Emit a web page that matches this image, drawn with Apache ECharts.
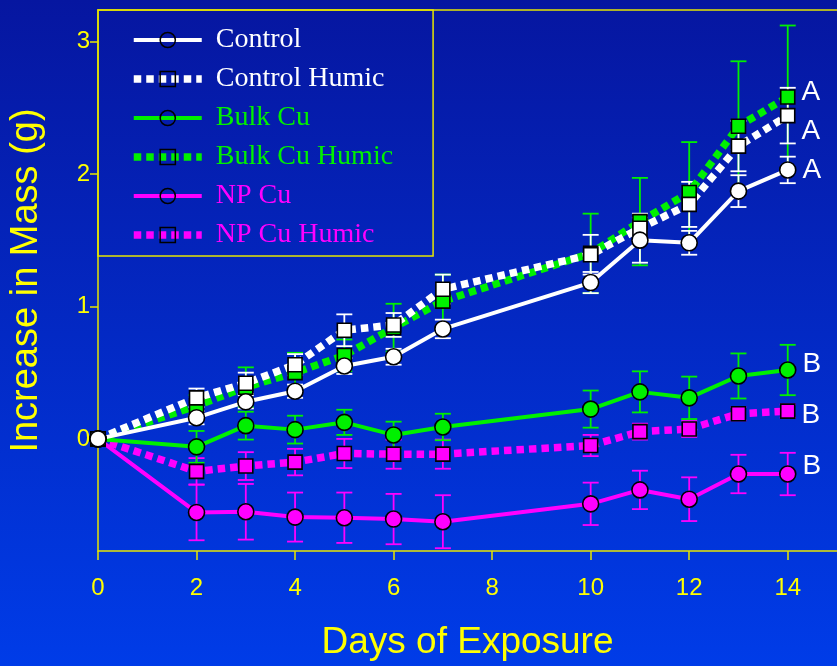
<!DOCTYPE html>
<html>
<head>
<meta charset="utf-8">
<script src="https://cdn.jsdelivr.net/npm/echarts@6/dist/echarts.min.js"></script>
<style>
  html, body { margin: 0; padding: 0; background: #0428c8; }
  #chart { width: 837px; height: 666px; }
</style>
</head>
<body>
<div id="chart"></div>
<script>
// Growth over the exposure period, mean increase in mass with error bars
const days = [0, 2, 3, 4, 5, 6, 7, 10, 11, 12, 13, 14];
const xTicks = [0, 2, 4, 6, 8, 10, 12, 14];
const yTicks = [0, 1, 2, 3];

const seriesNames = ['Control', 'Control Humic', 'Bulk Cu', 'Bulk Cu Humic', 'NP Cu', 'NP Cu Humic'];

const control      = [0, 0.16, 0.28, 0.36, 0.55, 0.62, 0.83, 1.18, 1.50, 1.48, 1.87, 2.03];
const controlErr   = [0, 0.05, 0.05, 0.05, 0.06, 0.06, 0.07, 0.08, 0.17, 0.09, 0.12, 0.10];
const controlHumic = [0, 0.31, 0.42, 0.56, 0.82, 0.86, 1.13, 1.39, 1.59, 1.77, 2.21, 2.44];
const controlHumicErr = [0, 0.07, 0.08, 0.08, 0.12, 0.09, 0.11, 0.15, 0.11, 0.17, 0.19, 0.21];
const bulkCu       = [0, -0.06, 0.10, 0.07, 0.125, 0.03, 0.09, 0.225, 0.355, 0.31, 0.475, 0.52];
const bulkCuErr    = [0, 0.12, 0.105, 0.105, 0.095, 0.10, 0.10, 0.14, 0.155, 0.16, 0.17, 0.19];
const bulkCuHumic  = [0, 0.25, 0.39, 0.50, 0.63, 0.84, 1.04, 1.40, 1.64, 1.86, 2.36, 2.58];
const bulkCuHumicErr = [0, 0.08, 0.15, 0.15, 0.12, 0.18, 0.20, 0.30, 0.33, 0.38, 0.49, 0.54];
const npCu         = [0, -0.555, -0.55, -0.59, -0.595, -0.605, -0.625, -0.49, -0.385, -0.455, -0.265, -0.265];
const npCuErr      = [0, 0.21, 0.21, 0.185, 0.19, 0.19, 0.20, 0.16, 0.145, 0.165, 0.145, 0.16];
const npCuHumic    = [0, -0.245, -0.205, -0.175, -0.11, -0.115, -0.115, -0.05, 0.055, 0.075, 0.19, 0.21];
const npCuHumicErr = [0, 0.10, 0.105, 0.10, 0.11, 0.11, 0.11, 0.08, 0.06, 0.06, 0.05, 0.05];

// Statistical grouping letters shown beside the day-14 points
const groupLetters = ['A', 'A', 'B', 'A', 'B', 'B'];

const YELLOW = '#ffff00';
const AXIS_YELLOW = '#e6e600';
const WHITE = '#ffffff';
const GREEN = '#00f000';
const MAGENTA = '#ff00ff';

const styles = [
  { color: WHITE,   symbol: 'circle', dashed: false, letterDy: 0 },
  { color: WHITE,   symbol: 'rect',   dashed: true,  letterDy: 16 },
  { color: GREEN,   symbol: 'circle', dashed: false, letterDy: -6 },
  { color: GREEN,   symbol: 'rect',   dashed: true,  letterDy: -5 },
  { color: MAGENTA, symbol: 'circle', dashed: false, letterDy: -8 },
  { color: MAGENTA, symbol: 'rect',   dashed: true,  letterDy: 4 }
];
const values = [control, controlHumic, bulkCu, bulkCuHumic, npCu, npCuHumic];
const errors = [controlErr, controlHumicErr, bulkCuErr, bulkCuHumicErr, npCuErr, npCuHumicErr];

const DASH = [7.5, 5];

function lineSeries(i) {
  const st = styles[i];
  const vals = values[i];
  const data = days.map((d, k) => {
    if (k === days.length - 1) {
      return {
        value: [d, vals[k]],
        label: {
          show: true,
          formatter: groupLetters[i],
          position: 'right',
          distance: 6,
          offset: [0, st.letterDy],
          color: WHITE,
          fontSize: 28,
          fontFamily: 'Liberation Sans, Arial, sans-serif'
        }
      };
    }
    return [d, vals[k]];
  });
  return {
    type: 'line',
    name: seriesNames[i],
    data: data,
    symbol: st.symbol,
    symbolSize: st.symbol === 'circle' ? 16 : 14,
    showAllSymbol: true,
    lineStyle: st.dashed
      ? { color: st.color, width: 7.5, type: DASH, cap: 'butt' }
      : { color: st.color, width: 4 },
    itemStyle: { color: st.color, borderColor: '#000', borderWidth: 1.6 },
    emphasis: { disabled: true },
    animation: false,
    z: 3
  };
}

function errorSeries(i) {
  const st = styles[i];
  const vals = values[i];
  const errs = errors[i];
  const data = [];
  days.forEach((d, k) => {
    if (errs[k] > 0) data.push([d, vals[k] - errs[k], vals[k] + errs[k]]);
  });
  return {
    type: 'custom',
    name: seriesNames[i] + ' error',
    data: data,
    encode: { x: 0, y: [1, 2] },
    renderItem: function (params, api) {
      const x = api.value(0);
      const lo = api.coord([x, api.value(1)]);
      const hi = api.coord([x, api.value(2)]);
      const half = 8;
      const style = { stroke: st.color, lineWidth: 1.8 };
      return {
        type: 'group',
        children: [
          { type: 'line', shape: { x1: lo[0], y1: lo[1], x2: hi[0], y2: hi[1] }, style: style },
          { type: 'line', shape: { x1: lo[0] - half, y1: lo[1], x2: lo[0] + half, y2: lo[1] }, style: style },
          { type: 'line', shape: { x1: hi[0] - half, y1: hi[1], x2: hi[0] + half, y2: hi[1] }, style: style }
        ]
      };
    },
    silent: true,
    animation: false,
    z: 3
  };
}

// Draw order: magenta at the back, white in front
const drawOrder = [5, 4, 3, 2, 1, 0];
const series = [];
drawOrder.forEach(i => { series.push(errorSeries(i)); series.push(lineSeries(i)); });

const legendData = seriesNames.map((n, i) => ({
  name: n,
  textStyle: { color: styles[i].color },
  itemStyle: { color: 'rgba(0,0,0,0)', borderColor: '#000', borderWidth: 1.5 },
  lineStyle: styles[i].dashed
    ? { width: 7.5, type: DASH, color: styles[i].color }
    : { width: 4, type: 'solid', color: styles[i].color }
}));

const chart = echarts.init(document.getElementById('chart'), null, { renderer: 'canvas' });
chart.setOption({
  backgroundColor: new echarts.graphic.LinearGradient(0, 0, 0, 1, [
    { offset: 0, color: '#0616a0' },
    { offset: 1, color: '#003ce8' }
  ]),
  animation: false,
  grid: { left: 98, right: 0, top: 10, bottom: 113, containLabel: false },
  legend: {
    orient: 'vertical',
    left: 98,
    top: 10,
    padding: [16, 40, 7, 32],
    itemWidth: 68,
    itemHeight: 19,
    itemGap: 11,
    borderColor: AXIS_YELLOW,
    borderWidth: 1.5,
    selectedMode: false,
    textStyle: { fontFamily: 'Liberation Serif, Times New Roman, serif', fontSize: 28, padding: [0, 0, 0, 9] },
    data: legendData
  },
  xAxis: [{
    type: 'value',
    min: 0,
    max: 15,
    axisLine: { show: true, onZero: false, lineStyle: { color: AXIS_YELLOW, width: 1.5 } },
    axisTick: { show: true, length: 9, customValues: xTicks, lineStyle: { color: AXIS_YELLOW, width: 1.5 } },
    axisLabel: { customValues: xTicks, color: YELLOW, fontSize: 24, margin: 25, fontFamily: 'Liberation Sans, Arial, sans-serif' },
    splitLine: { show: false },
    name: 'Days of Exposure',
    nameLocation: 'middle',
    nameGap: 73,
    nameTextStyle: { color: YELLOW, fontSize: 37, fontFamily: 'Liberation Sans, Arial, sans-serif' }
  }, {
    type: 'value',
    position: 'top',
    min: 0,
    max: 15,
    axisLine: { show: true, onZero: false, lineStyle: { color: AXIS_YELLOW, width: 1.5 } },
    axisTick: { show: false },
    axisLabel: { show: false },
    splitLine: { show: false }
  }],
  yAxis: {
    type: 'value',
    min: -0.846,
    max: 3.237,
    axisLine: { show: true, onZero: false, lineStyle: { color: AXIS_YELLOW, width: 1.5 } },
    axisTick: { show: true, length: 8, customValues: yTicks, lineStyle: { color: AXIS_YELLOW, width: 1.5 } },
    axisLabel: { customValues: yTicks, color: YELLOW, fontSize: 24, margin: 8, fontFamily: 'Liberation Sans, Arial, sans-serif' },
    splitLine: { show: false },
    name: 'Increase in Mass (g)',
    nameLocation: 'middle',
    nameGap: 52,
    nameTextStyle: { color: YELLOW, fontSize: 38, fontFamily: 'Liberation Sans, Arial, sans-serif' }
  },
  series: series
});
</script>
</body>
</html>
